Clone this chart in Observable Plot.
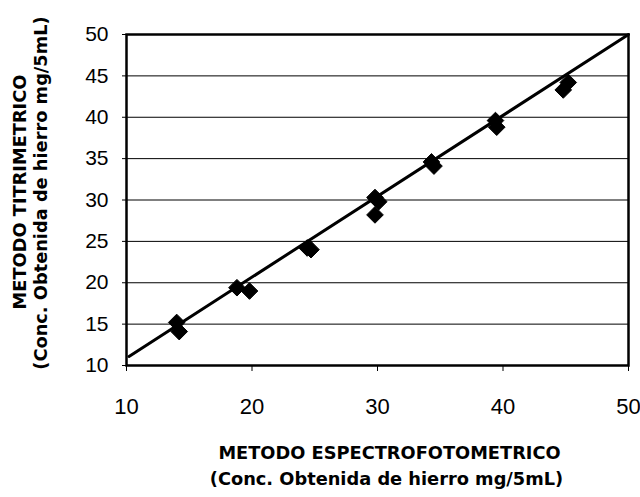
<!DOCTYPE html>
<html>
<head>
<meta charset="utf-8">
<script src="https://cdn.jsdelivr.net/npm/d3@7"></script>
<script src="https://cdn.jsdelivr.net/npm/@observablehq/plot@0.6"></script>
<style>
  html, body { margin: 0; padding: 0; background: #fff; }
  #chart svg { display: block; }
</style>
</head>
<body>
<div id="chart"></div>
<script>
// Measured points: x = espectrofotométrico, y = titrimétrico
const espectro = [14.0, 14.2, 18.8, 19.8, 24.4, 24.7, 29.8, 30.1, 29.8, 34.3, 34.5, 39.4, 39.5, 44.8, 45.2];
const titrim   = [15.2, 14.1, 19.4, 19.0, 24.2, 24.0, 30.3, 29.8, 28.2, 34.6, 34.1, 39.6, 38.8, 43.3, 44.2];

// Fitted line end points
const fitX = [10.2, 50];
const fitY = [11.1, 50];

// Tick values and grid
const xTicks = [10, 20, 30, 40, 50];
const yTicks = [10, 15, 20, 25, 30, 35, 40, 45, 50];
const gridY  = [15, 20, 25, 30, 35, 40, 45];

const xTitle = ["METODO ESPECTROFOTOMETRICO", "(Conc. Obtenida de hierro mg/5mL)"];
const yTitle = ["METODO TITRIMETRICO", "(Conc. Obtenida de hierro mg/5mL)"];

const points = espectro.map((x, i) => ({x, y: titrim[i]}));
const fit = fitX.map((x, i) => ({x, y: fitY[i]}));

const titleFont = "'DejaVu Sans', sans-serif";

const chart = Plot.plot({
  width: 640,
  height: 497,
  marginLeft: 126,
  marginRight: 12,
  marginTop: 34,
  marginBottom: 132,
  style: {fontFamily: "'Liberation Sans', Arial, sans-serif", background: "#fff", color: "#000"},
  x: {domain: [10, 50], ticks: xTicks},
  y: {domain: [10, 50], ticks: yTicks},
  marks: [
    Plot.ruleY(gridY, {stroke: "#000", strokeWidth: 1}),
    Plot.axisX({ticks: xTicks, tickSize: 6, tickPadding: 27, fontSize: 22, label: null, stroke: "#000"}),
    Plot.axisY({ticks: yTicks, tickSize: 4, tickPadding: 14, fontSize: 21, label: null, stroke: "#000"}),
    Plot.frame({stroke: "#000", strokeWidth: 2.5}),
    Plot.line(fit, {x: "x", y: "y", stroke: "#000", strokeWidth: 3}),
    Plot.dot(points, {x: "x", y: "y", symbol: "diamond2", r: 7.5, fill: "#000", stroke: "#000", strokeWidth: 1}),
    Plot.text([xTitle[0]], {frameAnchor: "bottom", textAnchor: "middle", dx: 12, dy: 88, fontSize: 17.8, fontWeight: "bold", fontFamily: titleFont, lineAnchor: "middle"}),
    Plot.text([xTitle[1]], {frameAnchor: "bottom", textAnchor: "middle", dx: 9, dy: 114, fontSize: 17.8, fontWeight: "bold", fontFamily: titleFont, lineAnchor: "middle"}),
    Plot.text([yTitle[0]], {frameAnchor: "left", textAnchor: "middle", dx: -106, dy: -8, rotate: -90, fontSize: 17.8, fontWeight: "bold", fontFamily: titleFont, lineAnchor: "middle"}),
    Plot.text([yTitle[1]], {frameAnchor: "left", textAnchor: "middle", dx: -85, dy: -7, rotate: -90, fontSize: 17.8, fontWeight: "bold", fontFamily: titleFont, lineAnchor: "middle"})
  ]
});
document.getElementById("chart").appendChild(chart);
</script>
</body>
</html>
